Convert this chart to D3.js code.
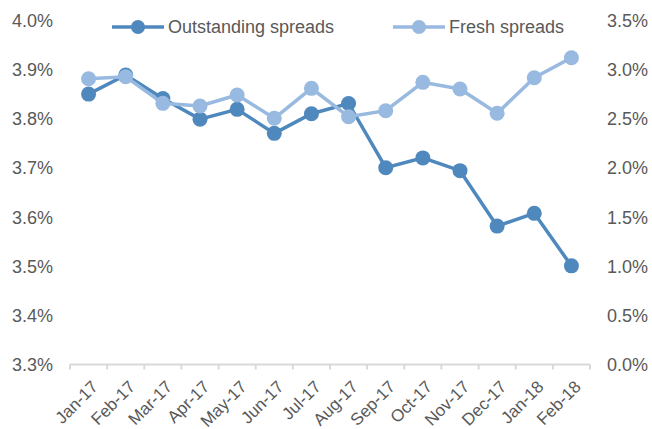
<!DOCTYPE html>
<html>
<head>
  <style type="text/css">
    body { margin: 0; background: #fff; }
    svg text { font-family: "Liberation Sans", Arial, sans-serif; fill: #595959; }
  </style>
</head>
<body>
  <script type="text/javascript" src="https://cdn.jsdelivr.net/npm/d3@7"></script>
  <script type="text/javascript">
    // data
    var months = ["Jan-17","Feb-17","Mar-17","Apr-17","May-17","Jun-17","Jul-17",
                  "Aug-17","Sep-17","Oct-17","Nov-17","Dec-17","Jan-18","Feb-18"];
    var outstanding = [3.851, 3.890, 3.842, 3.800, 3.820, 3.771, 3.811,
                       3.832, 3.701, 3.721, 3.695, 3.582, 3.608, 3.501];
    var fresh = [2.912, 2.932, 2.661, 2.634, 2.746, 2.509, 2.814,
                 2.525, 2.586, 2.875, 2.807, 2.560, 2.922, 3.126];
    var leftTicks = [3.3, 3.4, 3.5, 3.6, 3.7, 3.8, 3.9, 4.0];
    var rightTicks = [0, 0.5, 1.0, 1.5, 2.0, 2.5, 3.0, 3.5];

    var w = 652, h = 429;
    var m = {top: 21, right: 62, bottom: 64.5, left: 70};

    var darkBlue = "#4f88bd", lightBlue = "#98b9e0";

    var svg = d3.select("body").append("svg")
      .attr("width", w)
      .attr("height", h);

    var x = d3.scaleBand()
      .domain(months)
      .range([m.left, w - m.right]);

    var yL = d3.scaleLinear().domain([3.3, 4.0]).range([h - m.bottom, m.top]);
    var yR = d3.scaleLinear().domain([0, 3.5]).range([h - m.bottom, m.top]);

    // left axis labels
    svg.append("g")
      .attr("transform", "translate(" + m.left + ",0)")
      .call(d3.axisLeft(yL).tickValues(leftTicks).tickFormat(d => d.toFixed(1) + "%").tickSize(0).tickPadding(17))
      .call(g => g.select(".domain").remove())
      .selectAll("text").style("font-size", "18px");

    // right axis labels
    svg.append("g")
      .attr("transform", "translate(" + (w - m.right) + ",0)")
      .call(d3.axisRight(yR).tickValues(rightTicks).tickFormat(d => d.toFixed(1) + "%").tickSize(0).tickPadding(17))
      .call(g => g.select(".domain").remove())
      .selectAll("text").style("font-size", "18px");

    // x axis baseline and ticks between categories
    var xg = svg.append("g");
    xg.append("line")
      .attr("x1", m.left).attr("x2", w - m.right)
      .attr("y1", yL(3.3)).attr("y2", yL(3.3))
      .attr("stroke", "#d9d9d9").attr("stroke-width", 2);
    xg.selectAll("line.tick")
      .data(months.concat(["end"]))
      .enter().append("line")
      .attr("class", "tick")
      .attr("x1", (d, i) => m.left + i * x.step())
      .attr("x2", (d, i) => m.left + i * x.step())
      .attr("y1", yL(3.3)).attr("y2", yL(3.3) + 5)
      .attr("stroke", "#d9d9d9").attr("stroke-width", 2);

    xg.selectAll("text")
      .data(months)
      .enter().append("text")
      .attr("transform", d => "translate(" + (x(d) + x.bandwidth() / 2 + 2) + "," + (yL(3.3) + 15) + ") rotate(-45)")
      .attr("text-anchor", "end")
      .attr("dy", "0.7em")
      .style("font-size", "17px")
      .text(d => d);

    function drawSeries(vals, y, color) {
      var line = d3.line()
        .x((d, i) => x(months[i]) + x.bandwidth() / 2)
        .y(d => y(d));
      svg.append("path")
        .datum(vals)
        .attr("d", line)
        .attr("fill", "none")
        .attr("stroke", color)
        .attr("stroke-width", 3.5);
      svg.append("g").selectAll("circle")
        .data(vals)
        .enter().append("circle")
        .attr("cx", (d, i) => x(months[i]) + x.bandwidth() / 2)
        .attr("cy", d => y(d))
        .attr("r", 7.5)
        .attr("fill", color);
    }

    drawSeries(outstanding, yL, darkBlue);
    drawSeries(fresh, yR, lightBlue);

    // legend
    var legend = [
      {name: "Outstanding spreads", color: darkBlue, x: 112},
      {name: "Fresh spreads", color: lightBlue, x: 393}
    ];
    var lg = svg.append("g").selectAll("g")
      .data(legend)
      .enter().append("g")
      .attr("transform", d => "translate(" + d.x + ",27)");
    lg.append("line")
      .attr("x1", 0).attr("x2", 52)
      .attr("stroke", d => d.color).attr("stroke-width", 3.5);
    lg.append("circle")
      .attr("cx", 26).attr("r", 7)
      .attr("fill", d => d.color);
    lg.append("text")
      .attr("x", 56)
      .attr("dy", "0.35em")
      .style("font-size", "18px")
      .text(d => d.name);
  </script>
</body>
</html>
